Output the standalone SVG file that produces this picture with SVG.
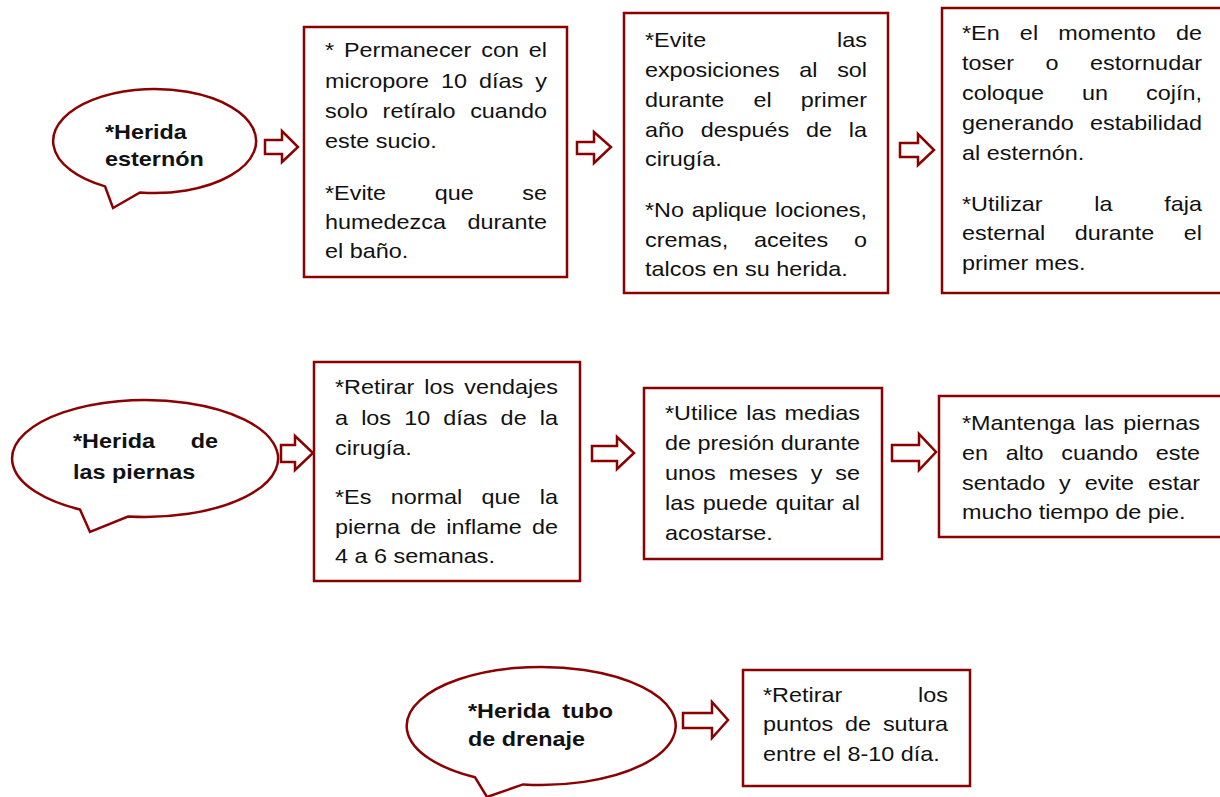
<svg xmlns="http://www.w3.org/2000/svg" width="1220" height="797" viewBox="0 0 1220 797">
<style>
.shape{fill:#fff;stroke:#8B0000;stroke-width:2.5;stroke-linejoin:miter}
.t{font-family:"Liberation Sans",Arial,sans-serif;font-size:20px;fill:#111}
.b{font-family:"Liberation Sans",Arial,sans-serif;font-size:20px;font-weight:bold;fill:#111}
</style>
<rect width="1220" height="797" fill="#fff"/>

<g id="callout-esternon">
<path class="shape" d="M140,192.5 A101.5,52 0 1 0 105,186.4 L113,208 Z"/>
<g transform="translate(105 0) scale(1.17 1)">
<text class="b" x="0" y="139">*Herida</text>
<text class="b" x="0" y="166">esternón</text>
</g>
</g>

<g id="box1">
<rect class="shape" x="304" y="27" width="263" height="250"/>
<g transform="translate(325 0) scale(1.17 1)">
<text class="t" x="0" y="57" word-spacing="2.8" textLength="189.7" lengthAdjust="spacing">* Permanecer con el</text>
<text class="t" x="0" y="88" word-spacing="4.7" textLength="189.7" lengthAdjust="spacing">micropore 10 días y</text>
<text class="t" x="0" y="118" word-spacing="7" textLength="189.7" lengthAdjust="spacing">solo retíralo cuando</text>
<text class="t" x="0" y="148">este sucio.</text>
<text class="t" x="0" y="200" word-spacing="35.9" textLength="189.7" lengthAdjust="spacing">*Evite que se</text>
<text class="t" x="0" y="229" word-spacing="12.8" textLength="189.7" lengthAdjust="spacing">humedezca durante</text>
<text class="t" x="0" y="258">el baño.</text>
</g>
</g>

<g id="box2">
<rect class="shape" x="624" y="13" width="264" height="280"/>
<g transform="translate(645 0) scale(1.17 1)">
<text class="t" x="0" y="47" word-spacing="106.3" textLength="189.7" lengthAdjust="spacing">*Evite las</text>
<text class="t" x="0" y="77" word-spacing="11.3" textLength="189.7" lengthAdjust="spacing">exposiciones al sol</text>
<text class="t" x="0" y="107" word-spacing="19.3" textLength="189.7" lengthAdjust="spacing">durante el primer</text>
<text class="t" x="0" y="137" word-spacing="8.8" textLength="189.7" lengthAdjust="spacing">año después de la</text>
<text class="t" x="0" y="166">cirugía.</text>
<text class="t" x="0" y="217" word-spacing="1.3" textLength="189.7" lengthAdjust="spacing">*No aplique lociones,</text>
<text class="t" x="0" y="247" word-spacing="16.5" textLength="189.7" lengthAdjust="spacing">cremas, aceites o</text>
<text class="t" x="0" y="276">talcos en su herida.</text>
</g>
</g>

<g id="box3">
<rect class="shape" x="942" y="8" width="290" height="285"/>
<g transform="translate(962 0) scale(1.17 1)">
<text class="t" x="0" y="40" word-spacing="11.7" textLength="205.1" lengthAdjust="spacing">*En el momento de</text>
<text class="t" x="0" y="70" word-spacing="21.4" textLength="205.1" lengthAdjust="spacing">toser o estornudar</text>
<text class="t" x="0" y="100" word-spacing="27" textLength="205.1" lengthAdjust="spacing">coloque un cojín,</text>
<text class="t" x="0" y="130" word-spacing="8.3" textLength="205.1" lengthAdjust="spacing">generando estabilidad</text>
<text class="t" x="0" y="160">al esternón.</text>
<text class="t" x="0" y="211" word-spacing="38.6" textLength="205.1" lengthAdjust="spacing">*Utilizar la faja</text>
<text class="t" x="0" y="240" word-spacing="19.7" textLength="205.1" lengthAdjust="spacing">esternal durante el</text>
<text class="t" x="0" y="270">primer mes.</text>
</g>
</g>

<g id="callout-piernas">
<path class="shape" d="M128,516.5 A133,58.5 0 1 0 80,509.5 L90,532 Z"/>
<g transform="translate(73 0) scale(1.17 1)">
<text class="b" x="0" y="448" word-spacing="25" textLength="124" lengthAdjust="spacing">*Herida de</text>
<text class="b" x="0" y="479">las piernas</text>
</g>
</g>

<g id="box4">
<rect class="shape" x="314" y="362" width="266" height="219"/>
<g transform="translate(335 0) scale(1.17 1)">
<text class="t" x="0" y="394" word-spacing="3" textLength="190.6" lengthAdjust="spacing">*Retirar los vendajes</text>
<text class="t" x="0" y="425" word-spacing="5.7" textLength="190.6" lengthAdjust="spacing">a los 10 días de la</text>
<text class="t" x="0" y="455">cirugía.</text>
<text class="t" x="0" y="504" word-spacing="10.9" textLength="190.6" lengthAdjust="spacing">*Es normal que la</text>
<text class="t" x="0" y="534" word-spacing="3.1" textLength="190.6" lengthAdjust="spacing">pierna de inflame de</text>
<text class="t" x="0" y="563">4 a 6 semanas.</text>
</g>
</g>

<g id="box5">
<rect class="shape" x="644" y="388" width="238" height="171"/>
<g transform="translate(665 0) scale(1.17 1)">
<text class="t" x="0" y="420" word-spacing="1.6" textLength="166.7" lengthAdjust="spacing">*Utilice las medias</text>
<text class="t" x="0" y="450" textLength="166.7" lengthAdjust="spacing">de presión durante</text>
<text class="t" x="0" y="480" word-spacing="5.5" textLength="166.7" lengthAdjust="spacing">unos meses y se</text>
<text class="t" x="0" y="510" word-spacing="1.1" textLength="166.7" lengthAdjust="spacing">las puede quitar al</text>
<text class="t" x="0" y="540">acostarse.</text>
</g>
</g>

<g id="box6">
<rect class="shape" x="939" y="396" width="290" height="141"/>
<g transform="translate(962 0) scale(1.17 1)">
<text class="t" x="0" y="430" word-spacing="2.2" textLength="203.4" lengthAdjust="spacing">*Mantenga las piernas</text>
<text class="t" x="0" y="460" word-spacing="9.6" textLength="203.4" lengthAdjust="spacing">en alto cuando este</text>
<text class="t" x="0" y="490" word-spacing="6.3" textLength="203.4" lengthAdjust="spacing">sentado y evite estar</text>
<text class="t" x="0" y="519">mucho tiempo de pie.</text>
</g>
</g>

<g id="callout-drenaje">
<path class="shape" d="M523,784.4 A134.5,59 0 1 0 475,777.3 L487,797 Z"/>
<g transform="translate(468 0) scale(1.17 1)">
<text class="b" x="0" y="718" word-spacing="5" textLength="124" lengthAdjust="spacing">*Herida tubo</text>
<text class="b" x="0" y="746">de drenaje</text>
</g>
</g>

<g id="box7">
<rect class="shape" x="743" y="670" width="227" height="116"/>
<g transform="translate(763 0) scale(1.17 1)">
<text class="t" x="0" y="702" word-spacing="59.2" textLength="158.1" lengthAdjust="spacing">*Retirar los</text>
<text class="t" x="0" y="731" word-spacing="4.5" textLength="158.1" lengthAdjust="spacing">puntos de sutura</text>
<text class="t" x="0" y="761">entre el 8-10 día.</text>
</g>
</g>

<g id="connectors">
<path class="shape" d="M265,140 H282 V131 L298,147 L282,162 V154 H265 Z"/>
<path class="shape" d="M577,142 H594 V132 L611,147 L594,163 V154 H577 Z"/>
<path class="shape" d="M900,143 H918 V134 L934,150 L918,165 V157 H900 Z"/>
<path class="shape" d="M281,445 H295 V436 L313,453 L295,470 V462 H281 Z"/>
<path class="shape" d="M592,446 H617 V437 L634,453 L617,469 V461 H592 Z"/>
<path class="shape" d="M892,445 H919 V434 L936,452 L919,470 V461 H892 Z"/>
<path class="shape" d="M683,713 H712 V702 L728,720 L712,738 V728 H683 Z"/>
</g>
</svg>
